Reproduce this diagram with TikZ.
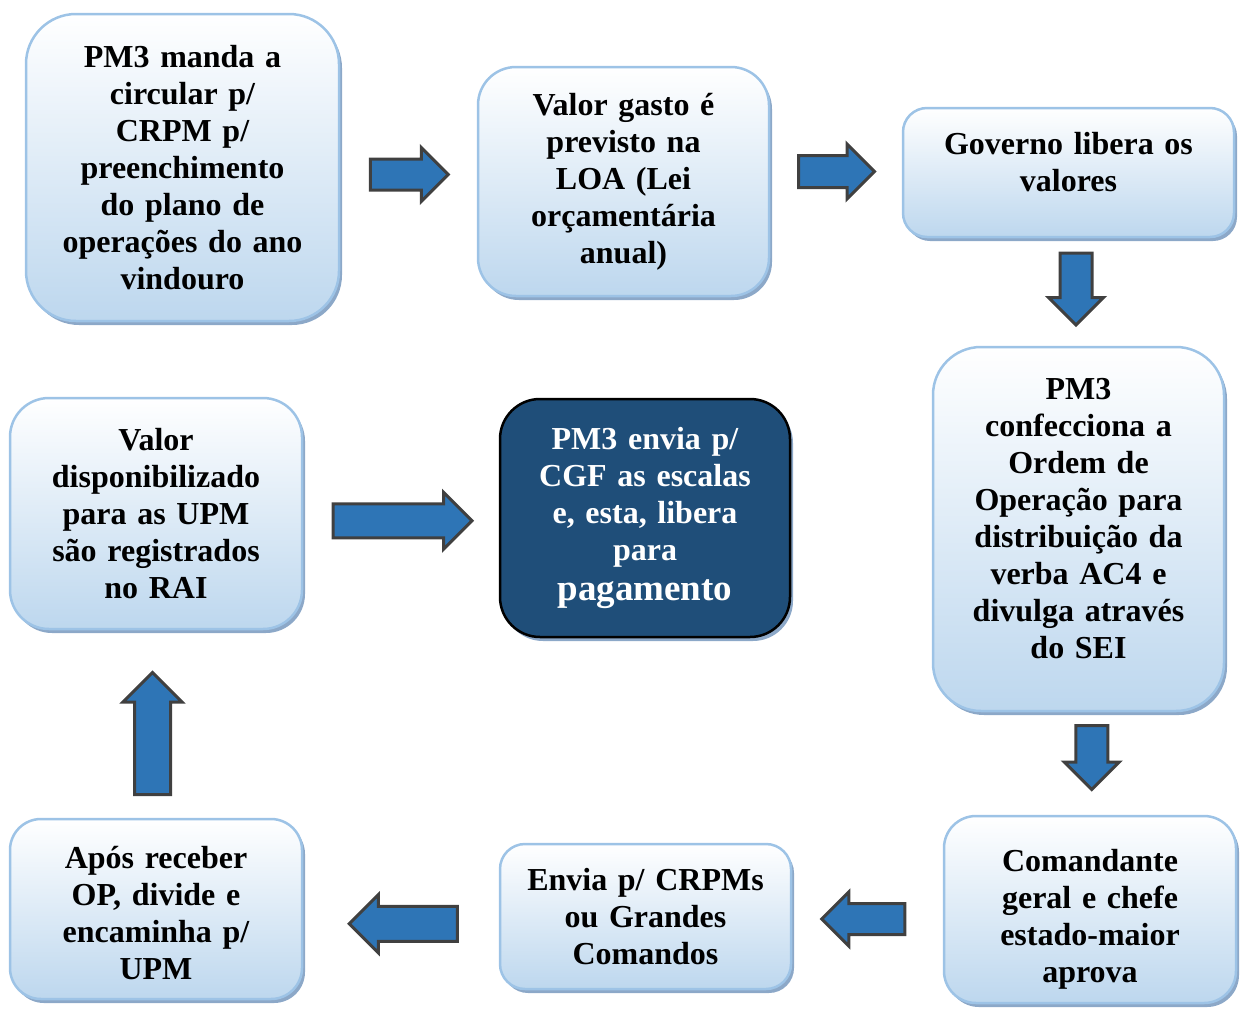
\documentclass[tikz,border=0pt]{standalone}
\usepackage{fontspec}
\setmainfont{Liberation Serif}
\usetikzlibrary{shapes.arrows,shadows,calc}
\definecolor{boxline}{RGB}{157,195,230}
\definecolor{boxfill}{RGB}{189,215,238}
\definecolor{boxshadow}{RGB}{140,168,200}
\definecolor{arrowfill}{RGB}{46,117,182}
\definecolor{arrowline}{RGB}{64,64,64}
\definecolor{darkfill}{RGB}{31,78,121}
\begin{document}
\begin{tikzpicture}[x=1pt,y=-1pt,line join=miter,font=\bfseries\fontsize{32}{37}\selectfont]
	\tikzset{boxbase/.style={line width=2.5pt,inner sep=0pt,text width=270pt,align=center,
			drop shadow={shadow xshift=3pt,shadow yshift=-4pt,fill=boxshadow,opacity=1}},
		stage/.style={boxbase,draw=boxline,top color=white,bottom color=boxfill},
		darkstage/.style={boxbase,draw=black,fill=darkfill,text=white},
		textup/.style={execute at end node={\par\vspace*{#1}}},
		flowarrow/.style={single arrow,draw=arrowline,line width=3pt,fill=arrowfill,
			inner xsep=0pt,inner ysep=#1,single arrow head extend=11.5pt}
	}
	\useasboundingbox (0,0) rectangle (1240,1010);
	\node[stage,minimum width=313,minimum height=307,rounded corners=50] (circular) at (182.5,167.5)
	{PM3 manda a\\circular p/\\CRPM p/\\preenchimento\\do plano de\\operações do ano\\vindouro};
	\node[stage,minimum width=291,minimum height=229,rounded corners=38] (loa) at (623.5,181.5)
	{Valor gasto é\\previsto na\\LOA (Lei\\orçamentária\\anual)};
	\node[stage,minimum width=331,minimum height=129,rounded corners=24,textup=20pt] (governo) at (1068.5,172.5)
	{Governo libera os\\valores};
	\node[stage,minimum width=291,minimum height=364,rounded corners=48,textup=20pt] (ordem) at (1078.5,529)
	{PM3\\confecciona a\\Ordem de\\Operação para\\distribuição da\\verba AC4 e\\divulga através\\do SEI};
	\node[stage,minimum width=292,minimum height=187,rounded corners=32,textup=-20pt] (aprova) at (1090,909.5)
	{Comandante\\geral e chefe\\estado-maior\\aprova};
	\node[stage,minimum width=291,minimum height=145,rounded corners=25] (envia) at (645.5,916.5)
	{Envia p/ CRPMs\\ou Grandes\\Comandos};
	\node[stage,minimum width=292,minimum height=180,rounded corners=31,textup=-8pt] (recebe) at (156,909)
	{Após receber\\OP, divide e\\encaminha p/\\UPM};
	\node[stage,minimum width=292,minimum height=231,rounded corners=39] (rai) at (156,513.5)
	{Valor\\disponibilizado\\para as UPM\\são registrados\\no RAI};
	\node[darkstage,minimum width=290,minimum height=238,rounded corners=40] (pagto) at (645,518)
	{PM3 envia p/\\CGF as escalas\\e, esta, libera\\para\\[3pt]{\fontsize{37}{42}\selectfont pagamento}};
	\node[flowarrow=14pt,minimum height=78,xshift=-7pt] (ab) at ($(circular.east)!.5!(loa.west)$) {};
	\node[flowarrow=14.5pt,minimum height=76,xshift=-7.5pt,yshift=5.5pt] (bc) at ($(loa.east)!.5!(governo.west)$) {};
	\node[flowarrow=14.5pt,minimum height=72,rotate=-90,xshift=-11pt,yshift=2.5pt] (cd) at ($(governo.south)!.5!(ordem.north)$) {};
	\node[flowarrow=14.5pt,minimum height=64,rotate=-90,xshift=-14pt,yshift=7.5pt] (de) at ($(ordem.south)!.5!(aprova.north)$) {};
	\node[flowarrow=14pt,minimum height=83,rotate=180,xshift=-3.5pt,yshift=6pt] (ef) at ($(aprova.west)!.5!(envia.east)$) {};
	\node[flowarrow=16pt,minimum height=108,rotate=180,xshift=-11pt,yshift=11pt] (fg) at ($(envia.west)!.5!(recebe.east)$) {};
	\node[flowarrow=16.5pt,minimum height=122,rotate=90,xshift=-18.5pt,yshift=3.5pt] (gh) at ($(recebe.north)!.5!(rai.south)$) {};
	\node[flowarrow=15.5pt,minimum height=139,xshift=-7pt,yshift=-5pt] (hi) at ($(rai.east)!.5!(pagto.west)$) {};
\end{tikzpicture}
\end{document}
